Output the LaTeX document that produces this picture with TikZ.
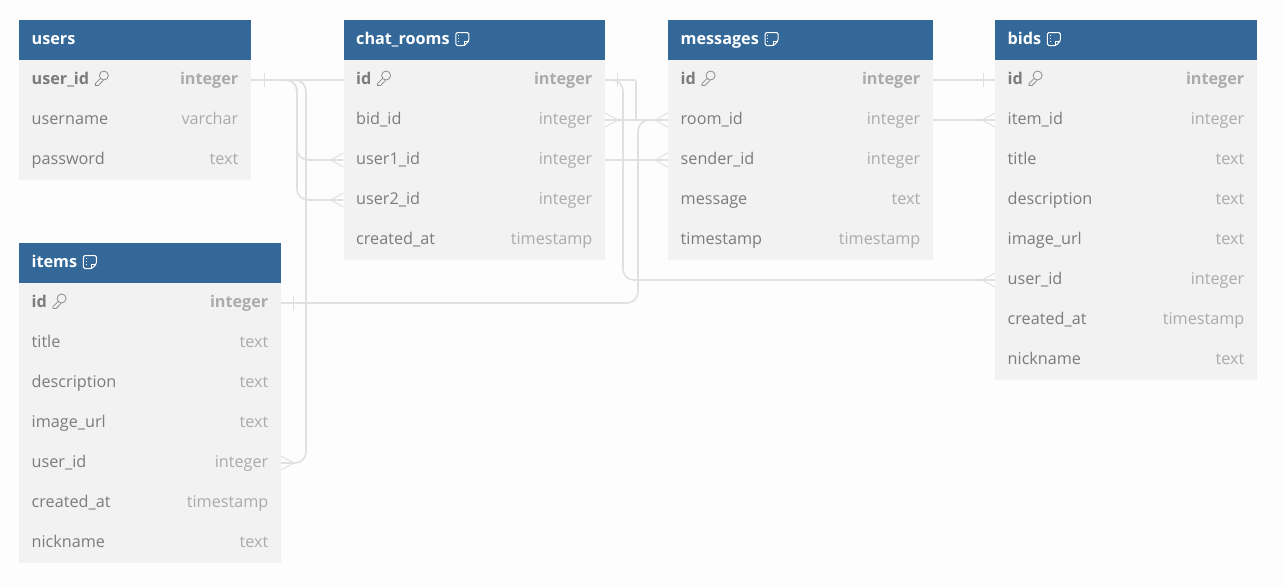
\documentclass[tikz,border=0pt]{standalone}
\usepackage{fontspec}
\setmainfont{Open Sans}
\usetikzlibrary{calc}
\pgfdeclarelayer{page}
\pgfdeclarelayer{wires}
\pgfsetlayers{page,wires,main}
\definecolor{hdr}{HTML}{336899}
\definecolor{rowbg}{HTML}{F2F2F2}
\definecolor{pagebg}{HTML}{FDFDFD}
\definecolor{conn}{HTML}{E0E0E0}
\definecolor{fieldtxt}{HTML}{7C7C7C}
\definecolor{typetxt}{HTML}{ABABAB}
\definecolor{icon}{HTML}{8C8C8C}
\newcommand{\txtsize}{\fontsize{16.2}{18}\selectfont}
\tikzset{
  x=1pt,y=-1pt,
  hdrbox/.style={draw=none,fill=hdr,minimum height=40pt,inner sep=0pt,outer sep=0pt,anchor=north west},
  rowbox/.style={draw=none,fill=rowbg,minimum height=40pt,inner sep=0pt,outer sep=0pt,anchor=north west},
  hdrtxt/.style={font=\txtsize\bfseries,text=white,anchor=base west,inner sep=0pt},
  fname/.style={font=\txtsize,text=fieldtxt,anchor=base west,inner sep=0pt},
  ftype/.style={font=\txtsize,text=typetxt,anchor=base east,inner sep=0pt},
  pkname/.style={fname,font=\txtsize\bfseries},
  pktype/.style={ftype,font=\txtsize\bfseries},
  link/.style={draw=conn,line width=1.6pt,rounded corners=11pt},
  linksharp/.style={draw=conn,line width=1.6pt,rounded corners=2pt},
  tickmark/.style={draw=conn,line width=1pt},
  crow/.style={draw=conn,line width=1pt},
}
\newcommand{\tblhead}[5]{%
  \node[hdrbox,minimum width=#4pt] (#1) at (#2,#3) {};
  \node[hdrtxt] (#1-t) at ($(#2,#3)+(12.5,24)$) {#5};
}
\newcommand{\tblrow}[8]{%
  \node[rowbox,minimum width=#4pt] (#1) at (#2,#3) {};
  \node[#7] (#1-n) at ($(#2,#3)+(12.5,24)$) {#5};
  \node[#8] (#1-y) at ($(#2,#3)+(#4,24)+(-12.5,0)$) {#6};
}
\newcommand{\keyicon}[1]{%
  \begin{scope}[shift={($(#1.base east)+(6,-6)$)},draw=icon,line width=.8pt]
    \draw (8.5,-2.5) circle[radius=4.5];
    \draw (5,0.5) -- (0,5.5) -- (0,7.5) -- (3,7.5) -- (8,2.2);
  \end{scope}}
\newcommand{\noteicon}[1]{%
  \begin{scope}[shift={($(#1.base east)+(6,-11.5)$)},draw=white,line width=1pt]
    \draw[rounded corners=1.5pt] (0,0) -- (13,0) -- (13,8.5) -- (8.5,13) -- (0,13) -- cycle;
    \draw (8.5,13) -- (8.5,8.5) -- (13,8.5);
    \draw[line width=.7pt] (2.5,2.5) -- (2.5,3.5) (2.5,5.5) -- (2.5,6.5) (2.5,8.5) -- (2.5,9.5);
  \end{scope}}
\newcommand{\onemark}[2]{\draw[tickmark] ($(#1)+(#2,-7)$) -- ($(#1)+(#2,7)$);}
\newcommand{\manymark}[2]{\draw[crow] ($(#1)+(0,-7)$) -- ($(#1)+(#2,0)$) -- ($(#1)+(0,7)$);}
\begin{document}
\begin{tikzpicture}
\begin{pgfonlayer}{page}
\useasboundingbox[fill=pagebg] (0,0) rectangle (1284,587);
\end{pgfonlayer}
% users
\tblhead{users}{19}{20}{232}{users}
\tblrow{users-user_id}{19}{60}{232}{user\_id}{integer}{pkname}{pktype}
\tblrow{users-username}{19}{100}{232}{username}{varchar}{fname}{ftype}
\tblrow{users-password}{19}{140}{232}{password}{text}{fname}{ftype}
\keyicon{users-user_id-n}
% items
\tblhead{items}{19}{243}{262}{items}
\tblrow{items-id}{19}{283}{262}{id}{integer}{pkname}{pktype}
\tblrow{items-title}{19}{323}{262}{title}{text}{fname}{ftype}
\tblrow{items-description}{19}{363}{262}{description}{text}{fname}{ftype}
\tblrow{items-image_url}{19}{403}{262}{image\_url}{text}{fname}{ftype}
\tblrow{items-user_id}{19}{443}{262}{user\_id}{integer}{fname}{ftype}
\tblrow{items-created_at}{19}{483}{262}{created\_at}{timestamp}{fname}{ftype}
\tblrow{items-nickname}{19}{523}{262}{nickname}{text}{fname}{ftype}
\noteicon{items-t}\keyicon{items-id-n}
% chat_rooms
\tblhead{chat}{343.5}{20}{261.5}{chat\_rooms}
\tblrow{chat-id}{343.5}{60}{261.5}{id}{integer}{pkname}{pktype}
\tblrow{chat-bid_id}{343.5}{100}{261.5}{bid\_id}{integer}{fname}{ftype}
\tblrow{chat-user1_id}{343.5}{140}{261.5}{user1\_id}{integer}{fname}{ftype}
\tblrow{chat-user2_id}{343.5}{180}{261.5}{user2\_id}{integer}{fname}{ftype}
\tblrow{chat-created_at}{343.5}{220}{261.5}{created\_at}{timestamp}{fname}{ftype}
\noteicon{chat-t}\keyicon{chat-id-n}
% messages
\tblhead{msg}{668}{20}{265}{messages}
\tblrow{msg-id}{668}{60}{265}{id}{integer}{pkname}{pktype}
\tblrow{msg-room_id}{668}{100}{265}{room\_id}{integer}{fname}{ftype}
\tblrow{msg-sender_id}{668}{140}{265}{sender\_id}{integer}{fname}{ftype}
\tblrow{msg-message}{668}{180}{265}{message}{text}{fname}{ftype}
\tblrow{msg-timestamp}{668}{220}{265}{timestamp}{timestamp}{fname}{ftype}
\noteicon{msg-t}\keyicon{msg-id-n}
% bids
\tblhead{bids}{995}{20}{262}{bids}
\tblrow{bids-id}{995}{60}{262}{id}{integer}{pkname}{pktype}
\tblrow{bids-item_id}{995}{100}{262}{item\_id}{integer}{fname}{ftype}
\tblrow{bids-title}{995}{140}{262}{title}{text}{fname}{ftype}
\tblrow{bids-description}{995}{180}{262}{description}{text}{fname}{ftype}
\tblrow{bids-image_url}{995}{220}{262}{image\_url}{text}{fname}{ftype}
\tblrow{bids-user_id}{995}{260}{262}{user\_id}{integer}{fname}{ftype}
\tblrow{bids-created_at}{995}{300}{262}{created\_at}{timestamp}{fname}{ftype}
\tblrow{bids-nickname}{995}{340}{262}{nickname}{text}{fname}{ftype}
\noteicon{bids-t}\keyicon{bids-id-n}
% connectors
\begin{pgfonlayer}{wires}
  \draw[link] (users-user_id.east) -- (297,80) -- (297,160) -- (chat-user1_id.west);
  \draw[link] (users-user_id.east) -- (297,80) -- (297,200) -- (chat-user2_id.west);
  \draw[link] (users-user_id.east) -- (306,80) -- (306,463) -- (items-user_id.east);
  \draw[link] (users-user_id.east) -- (chat-id.west);
  \draw[link] (chat-id.east) -- (623,80) -- (623,280) -- (bids-user_id.west);
  \draw[link] (chat-user1_id.east) -- (msg-sender_id.west);
  \draw[linksharp] (chat-id.east) -- (636,80) -- (636,120) -- (msg-room_id.west);
  \draw[link] (chat-bid_id.east) -- (msg-room_id.west);
  \draw[link] (msg-id.east) -- (bids-id.west);
  \draw[link] (items-id.east) -- (638,303) -- (638,120) -- (msg-room_id.west);
  \draw[link] (msg-room_id.east) -- (bids-item_id.west);
  \onemark{users-user_id.east}{13}
  \onemark{items-id.east}{12}
  \onemark{chat-id.east}{12}
  \onemark{bids-id.west}{-12}
  \manymark{chat-user1_id.west}{-13}
  \manymark{chat-user2_id.west}{-13}
  \manymark{items-user_id.east}{13}
  \manymark{chat-bid_id.east}{13}
  \manymark{msg-room_id.west}{-13}
  \manymark{msg-sender_id.west}{-13}
  \manymark{bids-item_id.west}{-13}
  \manymark{bids-user_id.west}{-13}
\end{pgfonlayer}
\end{tikzpicture}
\end{document}
